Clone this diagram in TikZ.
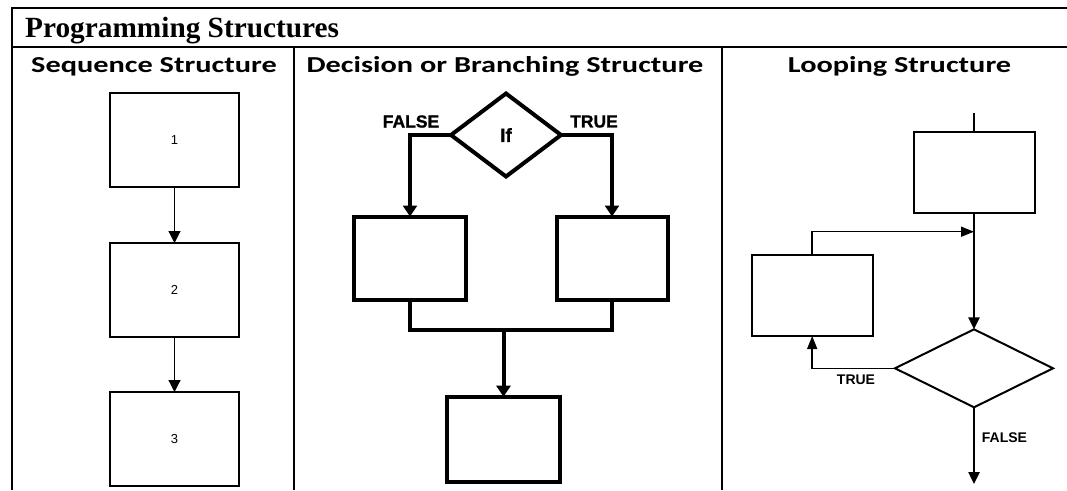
\documentclass[tikz,border=0pt]{standalone}
\usepackage{fontspec}
\setmainfont{Liberation Serif}
\newfontfamily\hdrfont[FakeStretch=1.33]{Carlito}
\newfontfamily\arialfont{Liberation Sans}
\newfontfamily\heavyfont[FakeBold=1.2]{Liberation Sans}
\usetikzlibrary{arrows.meta,shapes.geometric}
\begin{document}
\begin{tikzpicture}[x=1pt,y=-1pt,
  tline/.style={line width=2pt},
  seqbox/.style={draw,line width=1.2pt,minimum width=129pt,minimum height=94pt,inner sep=0pt,outer sep=0pt,font=\arialfont\fontsize{13}{15}\selectfont},
  seqarrow/.style={line width=1.2pt,-{Triangle[length=12pt,width=12pt]}},
  decbox/.style={draw,line width=4pt,inner sep=0pt,outer sep=0pt},
  decline/.style={line width=4pt},
  decarrow/.style={line width=4pt,-{Triangle[length=11pt,width=14pt]}},
  loopbox/.style={draw,line width=2pt,minimum width=121pt,minimum height=81pt,inner sep=0pt,outer sep=0pt},
  thinline/.style={line width=1.5pt},
  looparrow/.style={line width=1.5pt,-{Triangle[length=13pt,width=10pt]}},
  mainarrow/.style={line width=2.5pt,-{Triangle[length=12pt,width=11pt]}},
  declabel/.style={font=\heavyfont\bfseries\fontsize{17.5}{20}\selectfont,inner sep=0pt},
  looplabel/.style={font=\arialfont\bfseries\fontsize{14}{16}\selectfont,inner sep=0pt},
  hdr/.style={font=\hdrfont\bfseries\fontsize{22.8}{25}\selectfont,inner sep=0pt,anchor=base}
]
\useasboundingbox (0,0) rectangle (1067,490);
% table
\coordinate (tl) at (12,8);
\coordinate (tr) at (1067,8);
\coordinate (bl) at (12,490);
\coordinate (sl) at (12,47);
\coordinate (sr) at (1067,47);
\coordinate (d1t) at (293.5,47);
\coordinate (d1b) at (293.5,490);
\coordinate (d2t) at (722,47);
\coordinate (d2b) at (722,490);
\draw[tline] (tr) -- (tl) -- (bl);
\draw[tline] (sl) -- (sr);
\draw[tline] (d1t) -- (d1b);
\draw[tline] (d2t) -- (d2b);
\node[anchor=base west,inner sep=0pt,font=\bfseries\fontsize{29.3}{32}\selectfont] (title) at (25,37.3) {Programming Structures};
\node[hdr] (h1) at (154,72.3) {Sequence Structure};
\node[hdr] (h2) at (505,72.3) {Decision or Branching Structure};
\node[hdr] (h3) at (899.5,72.3) {Looping Structure};
% sequence
\node[seqbox] (s1) at (174.5,140) {1};
\node[seqbox] (s2) at (174.5,290) {2};
\node[seqbox] (s3) at (174.5,439) {3};
\draw[seqarrow] (s1) -- (s2);
\draw[seqarrow] (s2) -- (s3);
% decision
\node[diamond,draw,line width=4pt,minimum width=110pt,minimum height=83pt,inner sep=0pt,outer sep=0pt,font=\heavyfont\bfseries\fontsize{19}{22}\selectfont] (if) at (506,135) {If};
\node[decbox,minimum width=112pt,minimum height=83pt] (fb) at (410,258) {};
\node[decbox,minimum width=111pt,minimum height=83pt] (tb) at (612,258) {};
\node[decbox,minimum width=113pt,minimum height=85pt] (bb) at (503.5,439.2) {};
\node[declabel] (fl) at (411,121.5) {FALSE};
\node[declabel] (tlab) at (594,121.5) {TRUE};
\draw[decarrow] (if.west) -| (fb.north);
\draw[decarrow] (if.east) -| (tb.north);
\coordinate (join) at (503.5,330);
\draw[decline] (fb.south) |- (join) -| (tb.south);
\draw[decarrow] (join) -- (bb.north);
% looping
\coordinate (entry) at (974,112.7);
\node[loopbox] (lt) at (974,172.2) {};
\node[loopbox] (lb) at (812.2,295.5) {};
\node[diamond,draw,line width=2pt,minimum width=158pt,minimum height=78pt,inner sep=0pt,outer sep=0pt] (ld) at (974,368.3) {};
\coordinate (merge) at (974,231.7);
\coordinate (exit) at (974,484);
\draw[thinline] (entry) -- (lt.north);
\draw[mainarrow] (lt.south) -- (ld.north);
\draw[looparrow] (lb.north) |- (merge);
\draw[looparrow] (ld.west) -| (lb.south);
\draw[mainarrow] (ld.south) -- (exit);
\node[looplabel] (lt1) at (856,379.5) {TRUE};
\node[looplabel] (lf1) at (1004.5,437.5) {FALSE};
\end{tikzpicture}
\end{document}
